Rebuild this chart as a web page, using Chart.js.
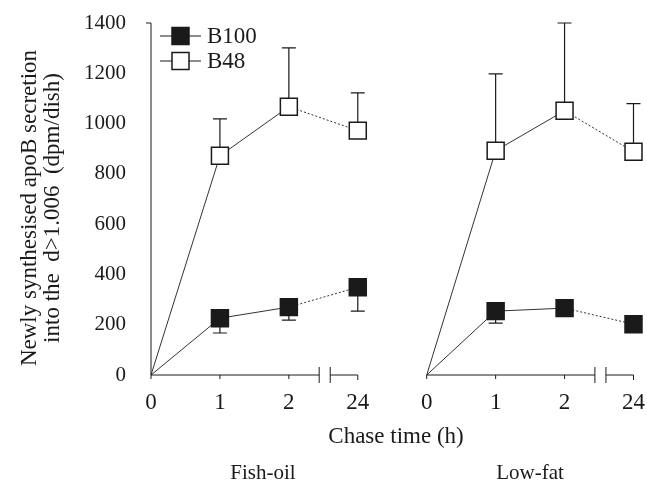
<!DOCTYPE html>
<html>
<head>
<meta charset="utf-8">
<script src="https://cdn.jsdelivr.net/npm/chart.js@4.4.1/dist/chart.umd.min.js"></script>
<style>
  html, body { margin: 0; padding: 0; background: #fff; }
  canvas { display: block; }
</style>
</head>
<body>
<canvas id="chart" width="647" height="484"></canvas>
<script>
// chase time labels (per panel) and panel names
const hourLabels = ['0', '1', '2', '24'];
const panelNames = ['Fish-oil', 'Low-fat'];
const seriesNames = ['B100', 'B48'];

// Fish-oil panel: means and one-sided SD
const fishB100 = [0, 226, 270, 349];
const fishB100Err = [0, 59, 52, 95];
const fishB48 = [0, 872, 1067, 972];
const fishB48Err = [0, 147, 234, 150];

// Low-fat panel
const lowB100 = [0, 254, 266, 202];
const lowB100Err = [0, 48, 0, 0];
const lowB48 = [0, 892, 1051, 888];
const lowB48Err = [0, 306, 349, 191];

const yTicks = [0, 200, 400, 600, 800, 1000, 1200, 1400];

const FONT = '"Liberation Serif", "Times New Roman", serif';
const INK = '#1a1a1a';
const PANEL_GAP = hourLabels.length; // right panel starts at position 4

function toPoints(values, panel) {
    return values.map((v, i) => ({ x: i + panel * PANEL_GAP, y: v }));
}

function makeSet(label, values, errs, panel, filled, dir) {
    return {
        label: label,
        data: toPoints(values, panel),
        errors: errs,
        errDir: dir,
        clip: false,
        borderColor: '#333',
        borderWidth: 1,
        pointStyle: 'rect',
        pointRadius: values.map((v, i) => i === 0 ? 0 : 12),
        pointBackgroundColor: filled ? INK : '#fff',
        pointBorderColor: INK,
        pointBorderWidth: 1.5,
        tension: 0,
        segment: {
            borderDash: ctx => ctx.p1DataIndex === values.length - 1 ? [2, 2] : undefined
        }
    };
}

const datasets = [
    makeSet(seriesNames[1], fishB48, fishB48Err, 0, false, 1),
    makeSet(seriesNames[0], fishB100, fishB100Err, 0, true, -1),
    makeSet(seriesNames[1], lowB48, lowB48Err, 1, false, 1),
    makeSet(seriesNames[0], lowB100, lowB100Err, 1, true, -1)
];

// error bars (one-sided, with caps)
const errorBars = {
    id: 'errorBars',
    beforeDatasetsDraw(chart) {
        const ctx = chart.ctx, ys = chart.scales.y;
        ctx.save();
        ctx.strokeStyle = INK;
        ctx.lineWidth = 1.2;
        chart.data.datasets.forEach((ds, di) => {
            const meta = chart.getDatasetMeta(di);
            meta.data.forEach((pt, i) => {
                const e = ds.errors[i];
                if (!e) return;
                const yEnd = ys.getPixelForValue(ds.data[i].y + ds.errDir * e);
                ctx.beginPath();
                ctx.moveTo(pt.x, pt.y);
                ctx.lineTo(pt.x, yEnd);
                ctx.moveTo(pt.x - 7, yEnd);
                ctx.lineTo(pt.x + 7, yEnd);
                ctx.stroke();
            });
        });
        ctx.restore();
    }
};

// broken x axes, y axis, legend and text labels
const decorations = {
    id: 'decorations',
    afterDatasetsDraw(chart) {
        const ctx = chart.ctx, xs = chart.scales.x, ys = chart.scales.y;
        const y0 = ys.getPixelForValue(0);
        const yTop = ys.getPixelForValue(yTicks[yTicks.length - 1]);
        ctx.save();
        ctx.strokeStyle = INK;
        ctx.lineWidth = 1;

        // y axis
        const yAxisX = xs.getPixelForValue(0);
        ctx.beginPath();
        ctx.moveTo(yAxisX, y0);
        ctx.lineTo(yAxisX, yTop);
        ctx.lineTo(yAxisX - 5, yTop);
        ctx.stroke();

        // x axes with break between 2 and 24
        panelNames.forEach((name, p) => {
            const off = p * PANEL_GAP;
            const px = v => xs.getPixelForValue(v + off);
            const b1 = px(2.44), b2 = px(2.6), end = px(3);
            ctx.beginPath();
            ctx.moveTo(px(0), y0);
            ctx.lineTo(b1, y0);
            ctx.moveTo(b1, y0 - 8);
            ctx.lineTo(b1, y0 + 8);
            ctx.moveTo(b2, y0 - 8);
            ctx.lineTo(b2, y0 + 8);
            ctx.moveTo(b2, y0);
            ctx.lineTo(end, y0);
            ctx.lineTo(end, y0 + 5);
            [0, 1, 2].forEach(t => {
                ctx.moveTo(px(t), y0);
                ctx.lineTo(px(t), y0 + 4);
            });
            ctx.stroke();
        });

        // legend
        ctx.font = '23px ' + FONT;
        ctx.fillStyle = INK;
        ctx.textBaseline = 'middle';
        ctx.textAlign = 'left';
        [[1, 36], [0, 61]].forEach(([di, ly]) => {
            const ds = chart.data.datasets[di];
            ctx.beginPath();
            ctx.moveTo(160, ly);
            ctx.lineTo(201, ly);
            ctx.stroke();
            ctx.fillStyle = ds.pointBackgroundColor;
            ctx.fillRect(172, ly - 8.5, 17, 17);
            ctx.lineWidth = 1.5;
            ctx.strokeRect(172, ly - 8.5, 17, 17);
            ctx.lineWidth = 1;
            ctx.fillStyle = INK;
            ctx.fillText(ds.label, 207, ly + 1);
        });

        // y title (two lines)
        ctx.textAlign = 'center';
        ctx.font = '23px ' + FONT;
        const yTitle = ['Newly synthesised apoB secretion', 'into the  d>1.006  (dpm/dish)'];
        [[30, 0], [53, 1]].forEach(([tx, li]) => {
            ctx.save();
            ctx.translate(tx, 208);
            ctx.rotate(-Math.PI / 2);
            ctx.fillText(yTitle[li], 0, 0);
            ctx.restore();
        });

        // x title and panel names
        ctx.fillText('Chase time (h)', 396, 437);
        ctx.font = '21px ' + FONT;
        ctx.fillText(panelNames[0], 263, 473);
        ctx.fillText(panelNames[1], 530, 473);
        ctx.restore();
    }
};

new Chart(document.getElementById('chart'), {
    type: 'line',
    data: { datasets: datasets },
    options: {
        responsive: false,
        animation: false,
        devicePixelRatio: 1,
        layout: { padding: { top: 23, right: 10, left: 0, bottom: 0 } },
        plugins: { legend: { display: false }, tooltip: { enabled: false } },
        scales: {
            x: {
                type: 'linear',
                min: 0,
                max: 2 * PANEL_GAP - 1,
                grid: { display: false, drawTicks: false },
                border: { display: false },
                ticks: {
                    stepSize: 1,
                    autoSkip: false,
                    maxRotation: 0,
                    padding: 14,
                    color: INK,
                    font: { family: FONT, size: 23 },
                    callback: v => hourLabels[v % PANEL_GAP]
                },
                afterFit: s => { s.height = 109; s.paddingLeft = 0; s.paddingRight = 0; }
            },
            y: {
                min: 0,
                max: 1400,
                grid: { display: false, drawTicks: false },
                border: { display: false },
                afterBuildTicks: s => { s.ticks = yTicks.map(v => ({ value: v })); },
                ticks: {
                    padding: 25,
                    color: INK,
                    font: { family: FONT, size: 21 },
                    callback: v => String(v)
                },
                afterFit: s => { s.width = 151; s.paddingTop = 0; s.paddingBottom = 0; }
            }
        }
    },
    plugins: [errorBars, decorations]
});
</script>
</body>
</html>
